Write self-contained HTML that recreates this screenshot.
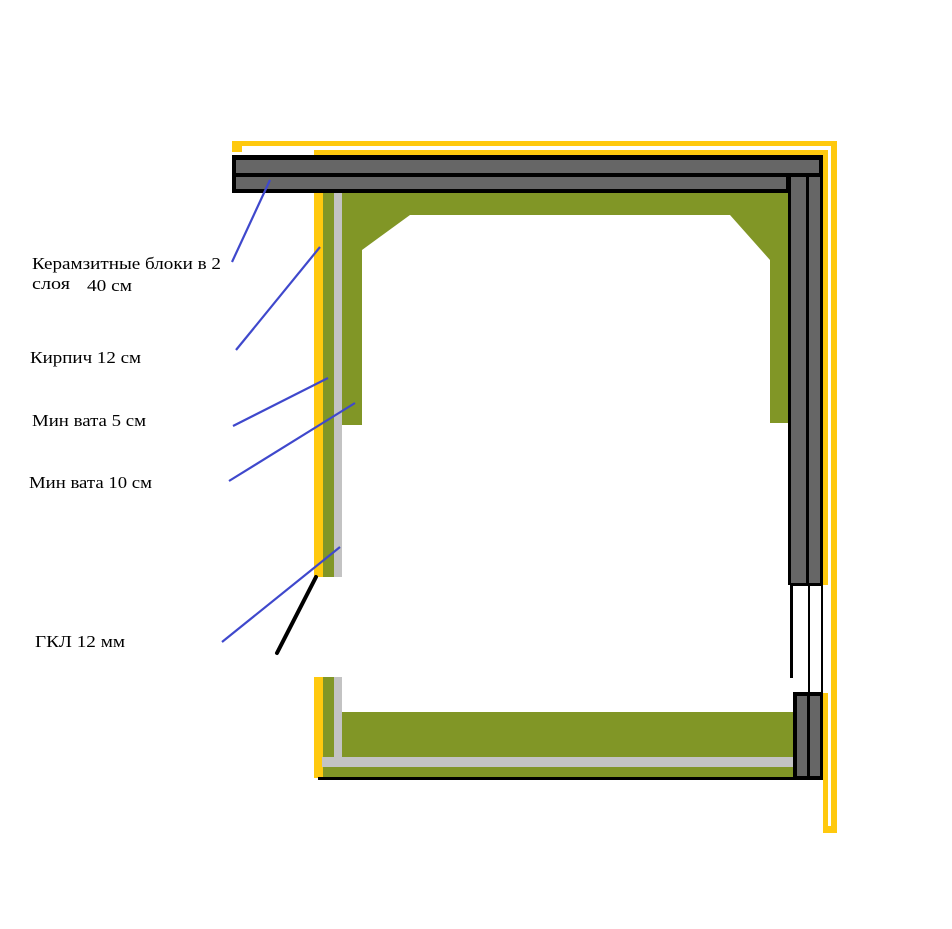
<!DOCTYPE html>
<html><head><meta charset="utf-8"><style>
html,body{margin:0;padding:0;background:#fff;}
svg{display:block}
text{font-family:"Liberation Serif",serif;font-size:17px;fill:#000}
</style></head><body>
<svg width="952" height="929" viewBox="0 0 952 929" xmlns="http://www.w3.org/2000/svg">
<rect x="232" y="141" width="605" height="5" fill="#ffc90e"/>
<rect x="232" y="141" width="10" height="11" fill="#ffc90e"/>
<rect x="314" y="150" width="514" height="6" fill="#ffc90e"/>
<rect x="831" y="141" width="6" height="692" fill="#ffc90e"/>
<rect x="823" y="150" width="5" height="435" fill="#ffc90e"/>
<rect x="823" y="693" width="5" height="140" fill="#ffc90e"/>
<rect x="823" y="826" width="14" height="7" fill="#ffc90e"/>
<rect x="232" y="155" width="591" height="38" fill="#000"/>
<rect x="236" y="160" width="583" height="13" fill="#666"/>
<rect x="236" y="177" width="550" height="12" fill="#666"/>
<rect x="788" y="155" width="35" height="430" fill="#000"/>
<rect x="791" y="177" width="15" height="406" fill="#666"/>
<rect x="809" y="177" width="11" height="406" fill="#666"/>
<rect x="786" y="160" width="33" height="13" fill="#666"/>
<polygon points="342,193 788,193 788,423 770,423 770,260 730,215 410,215 362,250 362,425 342,425" fill="#819626"/>
<rect x="314" y="193" width="9" height="384" fill="#ffc90e"/>
<rect x="323" y="193" width="11" height="384" fill="#819626"/>
<rect x="334" y="193" width="8" height="384" fill="#c3c3c3"/>
<rect x="314" y="677" width="9" height="101" fill="#ffc90e"/>
<rect x="323" y="677" width="11" height="100" fill="#819626"/>
<rect x="334" y="677" width="8" height="85" fill="#c3c3c3"/>
<rect x="342" y="712" width="451" height="46" fill="#819626"/>
<rect x="322" y="757" width="473" height="10" fill="#c3c3c3"/>
<rect x="323" y="767" width="470" height="10" fill="#819626"/>
<rect x="318" y="777" width="505" height="3" fill="#000"/>
<rect x="793" y="692" width="30" height="88" fill="#000"/>
<rect x="797" y="696" width="10" height="80" fill="#666"/>
<rect x="810" y="696" width="10" height="80" fill="#666"/>
<rect x="791" y="583" width="32" height="3" fill="#000"/>
<rect x="790" y="583" width="3" height="95" fill="#000"/>
<rect x="808" y="583" width="2" height="110" fill="#000"/>
<rect x="821" y="583" width="2" height="110" fill="#000"/>
<line x1="316" y1="577" x2="277" y2="653" stroke="#000" stroke-width="4" stroke-linecap="round"/>
<g stroke="#3f48cc" stroke-width="2.2">
<line x1="270" y1="180" x2="232" y2="262"/>
<line x1="320" y1="247" x2="236" y2="350"/>
<line x1="328" y1="378" x2="233" y2="426"/>
<line x1="355" y1="403" x2="229" y2="481"/>
<line x1="340" y1="547" x2="222" y2="642"/>
</g>
<text x="32" y="269" textLength="189" lengthAdjust="spacingAndGlyphs">Керамзитные блоки в 2</text>
<text x="32" y="289" textLength="38" lengthAdjust="spacingAndGlyphs">слоя</text>
<text x="87" y="291" textLength="45" lengthAdjust="spacingAndGlyphs">40 см</text>
<text x="30" y="363" textLength="111" lengthAdjust="spacingAndGlyphs">Кирпич 12 см</text>
<text x="32" y="426" textLength="114" lengthAdjust="spacingAndGlyphs">Мин вата 5 см</text>
<text x="29" y="488" textLength="123" lengthAdjust="spacingAndGlyphs">Мин вата 10 см</text>
<text x="35" y="647" textLength="90" lengthAdjust="spacingAndGlyphs">ГКЛ 12 мм</text>
</svg>
</body></html>
